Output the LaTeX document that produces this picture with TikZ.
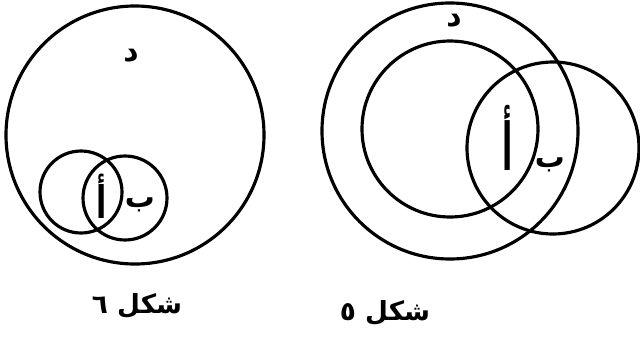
\documentclass[tikz,border=0pt]{standalone}
\usepackage{fontspec}
\newfontfamily\arabicfont[Script=Arabic]{DejaVu Sans}
\TeXXeTstate=1
\usepackage{tikz}
\usetikzlibrary{positioning}

\tikzset{
  ring/.style={draw=black,line width=1.8pt},
  letter/.style={font=\arabicfont\bfseries\fontsize{17}{17}\selectfont,inner sep=0pt},
  caption/.style={font=\arabicfont\bfseries\fontsize{15}{15}\selectfont,inner sep=0pt}
}

\begin{document}
\begin{tikzpicture}[x=0.02cm,y=-0.02cm]
  \useasboundingbox (0,0) rectangle (640,342);
  % figure 6
  \draw[ring] (135,135) circle (129);
  \draw[ring] (81,192) circle (41);
  \draw[ring] (125,198) circle (42);
  \node[letter] (d6) at (131,56) {\beginR د\endR};
  \node[letter,yscale=1.5] (a6) at (102,196) {\beginR أ\endR};
  \node[letter] (b6) at (140,205) {\beginR ب\endR};
  \node[caption] (cap6) at (137,306) {\beginR شكل ٦\endR};
  % figure 5
  \draw[ring] (450,131) circle (128);
  \draw[ring] (450,129) circle (88);
  \draw[ring] (553,148) circle (86);
  \node[letter] (d5) at (454,21) {\beginR د\endR};
  \node[letter,yscale=2.2] (a5) at (508,138) {\beginR أ\endR};
  \node[letter] (b5) at (550,165) {\beginR ب\endR};
  \node[caption] (cap5) at (385,313) {\beginR شكل ٥\endR};
\end{tikzpicture}
\end{document}
